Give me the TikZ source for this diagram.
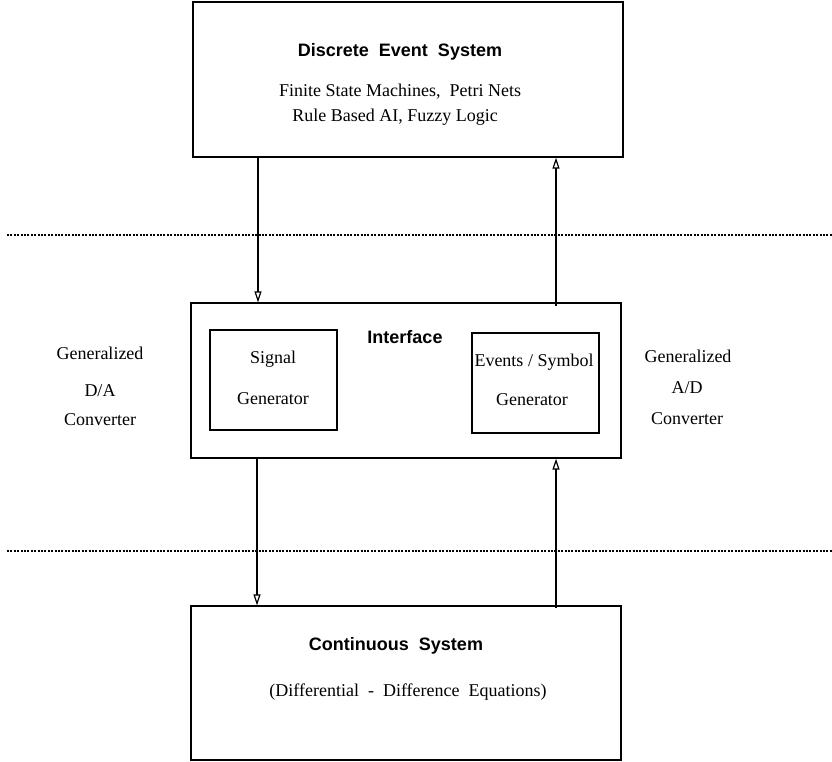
\documentclass[tikz,border=0pt]{standalone}
\usepackage{fontspec}
\setmainfont{Liberation Serif}
\setsansfont{Liberation Sans}
\usetikzlibrary{arrows.meta}
\begin{document}
\begin{tikzpicture}[x=1pt,y=-1pt,
  box/.style={draw,line width=1.3pt,rectangle,inner sep=0pt},
  txt/.style={font=\fontsize{18}{20}\selectfont,inner sep=0pt,text height=0.68em,text depth=0.2em,yshift=-4pt},
  btxt/.style={font=\fontsize{18}{20}\selectfont\sffamily\bfseries,inner sep=0pt,text height=0.68em,text depth=0.2em,yshift=-4pt},
  arr/.style={line width=1.2pt,-{Triangle[open,length=11pt,width=7pt,line width=1.2pt]}},
  sep/.style={line width=2.2pt,dash pattern=on 2pt off 1.4pt}]
\useasboundingbox (0,0) rectangle (832,761);
% boxes
\node[box,minimum width=430pt,minimum height=155pt] (des) at (408,79.5) {};
\node[box,minimum width=430pt,minimum height=155pt] (iface) at (406,380.5) {};
\node[box,minimum width=430pt,minimum height=154pt] (cont) at (406,683) {};
\node[box,minimum width=127pt,minimum height=100pt] (sig) at (273.5,380) {};
\node[box,minimum width=127pt,minimum height=100pt] (evt) at (535.5,383) {};
% texts
\node[btxt] (t1) at (400,50) {Discrete\ \ Event\ \ System};
\node[txt] (t2) at (400,90) {Finite State Machines,\ \ Petri Nets};
\node[txt] (t3) at (395,115) {Rule Based AI, Fuzzy Logic};
\node[btxt] (t4) at (405,337) {Interface};
\node[txt] (t5) at (273,357) {Signal};
\node[txt] (t6) at (273,398) {Generator};
\node[txt] (t7) at (534,360) {Events / Symbol};
\node[txt] (t8) at (532,399) {Generator};
\node[txt] (l1) at (100,353) {Generalized};
\node[txt] (l2) at (100,390) {D/A};
\node[txt] (l3) at (100,419) {Converter};
\node[txt] (r1) at (688,356) {Generalized};
\node[txt] (r2) at (687,387) {A/D};
\node[txt] (r3) at (687,418) {Converter};
\node[btxt] (t9) at (396,644) {Continuous\ \ System};
\node[txt] (t10) at (408,690) {(Differential\ \ -\ \ Difference\ \ Equations)};
% separators
\coordinate (s1a) at (7,235);
\coordinate (s1b) at (832,235);
\coordinate (s2a) at (7,551);
\coordinate (s2b) at (832,551);
\draw[sep] (s1a) -- (s1b);
\draw[sep] (s2a) -- (s2b);
% connector columns
\coordinate (cl) at (258,0);
\coordinate (cr) at (556,0);
\coordinate (cl2) at (257,0);
\draw[arr] (des.south -| cl) -- (iface.north -| cl);
\draw[arr] ([yshift=-4pt]iface.north -| cr) -- (des.south -| cr);
\draw[arr] (iface.south -| cl2) -- (cont.north -| cl2);
\draw[arr] ([yshift=-3pt]cont.north -| cr) -- (iface.south -| cr);
\end{tikzpicture}
\end{document}
